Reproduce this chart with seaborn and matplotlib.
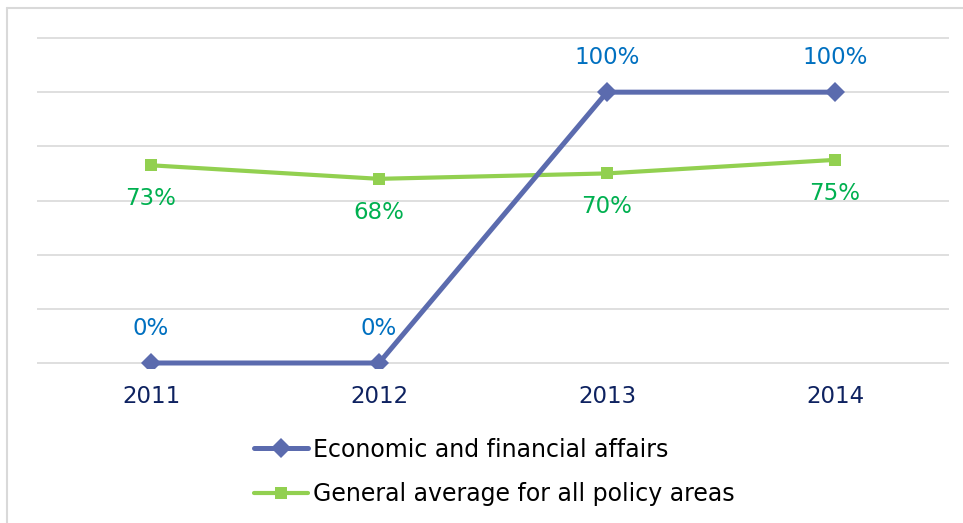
import matplotlib
matplotlib.use("Agg")
import matplotlib.pyplot as plt
from matplotlib.lines import Line2D
import seaborn as sns
import pandas as pd

years = ["2011", "2012", "2013", "2014"]
econ = [0, 0, 100, 100]
general = [73, 68, 70, 75]
econ_labels = ["0%", "0%", "100%", "100%"]
general_labels = ["73%", "68%", "70%", "75%"]
series_names = ["Economic and financial affairs", "General average for all policy areas"]

sns.set_theme(style="white")
plt.rcParams['font.family'] = ['DejaVu Sans']

blue = "#5B6BAE"
green = "#92D050"
blue_txt = "#0070C0"
green_txt = "#00B050"

df = pd.DataFrame({
    "x": list(range(len(years))) * 2,
    "value": econ + general,
    "series": [series_names[0]] * len(years) + [series_names[1]] * len(years),
})

fig = plt.figure(figsize=(9.63, 5.23), dpi=100)
u = 325 / 120.0
ax = fig.add_axes([37/963, 1 - (363 + 2*u)/523, (949-37)/963, (325 + 4*u)/523])

sub1 = df[df.series == series_names[0]]
sub2 = df[df.series == series_names[1]]
sns.lineplot(data=sub2, x="x", y="value", ax=ax, color=green, lw=3.0,
             marker="s", markersize=8, markeredgewidth=0, label=series_names[1], zorder=3)
sns.lineplot(data=sub1, x="x", y="value", ax=ax, color=blue, lw=3.6,
             marker="D", markersize=10, markeredgewidth=0, label=series_names[0], zorder=4)

for i, (v, t) in enumerate(zip(econ, econ_labels)):
    ax.annotate(t, (i, v), xytext=(0, 25), textcoords="offset points",
                ha="center", va="center", color=blue_txt, fontsize=16.5)
for i, (v, t) in enumerate(zip(general, general_labels)):
    ax.annotate(t, (i, v), xytext=(0, -24), textcoords="offset points",
                ha="center", va="center", color=green_txt, fontsize=16.5)

ax.set_xlim(-0.5, len(years) - 0.5)
ax.set_ylim(-2, 122)
ax.set_yticks(range(0, 121, 20))
ax.set_yticklabels([])
ax.set_xticks(range(len(years)))
ax.set_xticklabels(years, fontsize=16.5, color="#0E2260")
ax.tick_params(axis="x", length=0, pad=12)
ax.tick_params(axis="y", length=0)
ax.grid(axis="y", color="#D9D9D9", lw=1.2)
ax.set_axisbelow(True)
for s in ax.spines.values():
    s.set_visible(False)
ax.set_xlabel("")
ax.set_ylabel("")

handles, labels = ax.get_legend_handles_labels()
order = [labels.index(n) for n in series_names]
leg = ax.legend([handles[i] for i in order], [labels[i] for i in order],
          loc="center", bbox_to_anchor=(0.513, 0.098), bbox_transform=fig.transFigure,
          frameon=False, fontsize=17, handlelength=2.3, handletextpad=0.2,
          labelspacing=0.85, borderpad=0)
for t in leg.get_texts():
    t.set_color("#000000")

# outer frame (top and left edges visible)
fig.add_artist(Line2D([7/963, 7/963], [0, 1 - 8/523], transform=fig.transFigure, color="#D9D9D9", lw=1.5))
fig.add_artist(Line2D([7/963, 1], [1 - 8/523, 1 - 8/523], transform=fig.transFigure, color="#D9D9D9", lw=1.5))

fig.savefig("out.png", dpi=100)
